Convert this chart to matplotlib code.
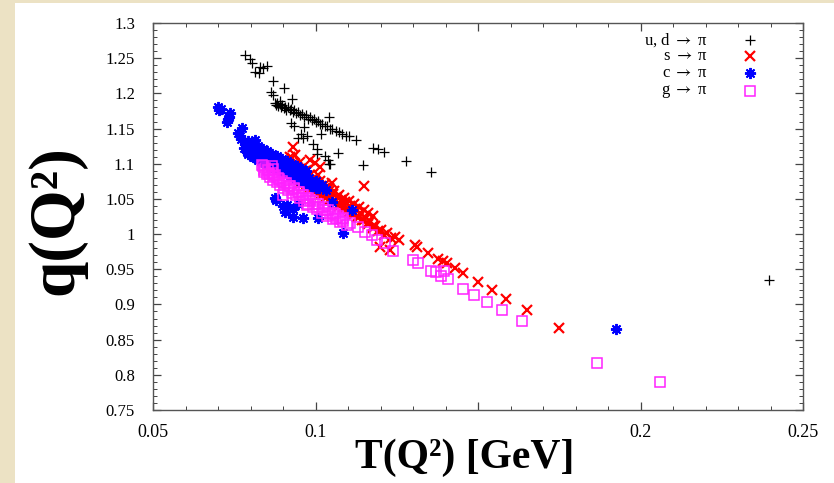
"""Scatter of q(Q^2) against T(Q^2) for four fragmentation channels."""
import matplotlib
matplotlib.use("Agg")
import matplotlib.pyplot as plt
from matplotlib.patches import Rectangle
from matplotlib.ticker import MultipleLocator, FixedFormatter, FixedLocator

plt.rcParams["font.family"] = ["Liberation Serif", "DejaVu Serif"]
plt.rcParams["mathtext.fontset"] = "stix"

# ---- data ----
# u, d -> pi
ud_x = [0.0783, 0.0798, 0.0805, 0.0814, 0.0826, 0.0829, 0.0838, 0.0851, 0.0869, 0.0903,
        0.0863, 0.0869, 0.0891, 0.0928,
        0.0875, 0.0878, 0.0882, 0.0886, 0.0890, 0.0894, 0.0898, 0.0902, 0.0906, 0.0910,
        0.0915, 0.0920, 0.0925, 0.0930, 0.0935, 0.0940, 0.0946, 0.0952, 0.0958, 0.0964,
        0.0970, 0.0976, 0.0982, 0.0988, 0.0994, 0.1000, 0.1007, 0.1014, 0.1021, 0.1028,
        0.1036, 0.1044, 0.1052, 0.1062, 0.1072, 0.1082, 0.1094, 0.1104,
        0.1042, 0.0925, 0.0934, 0.0965, 0.0955, 0.0974, 0.1017, 0.0992, 0.1005, 0.1005,
        0.1029, 0.1038, 0.1069, 0.1042, 0.1125, 0.1146, 0.1177, 0.1192, 0.1211, 0.1278,
        0.1355, 0.0945, 0.0962, 0.1045, 0.2395]
ud_y = [1.2545, 1.249, 1.243, 1.230, 1.229, 1.2375, 1.236, 1.239, 1.2176, 1.2077,
        1.202, 1.198, 1.189, 1.192,
        1.187, 1.183, 1.186, 1.182, 1.185, 1.181, 1.183, 1.179, 1.181, 1.177,
        1.180, 1.176, 1.178, 1.174, 1.176, 1.172, 1.174, 1.169, 1.171, 1.167,
        1.169, 1.164, 1.166, 1.162, 1.163, 1.159, 1.161, 1.156, 1.157, 1.153,
        1.153, 1.149, 1.149, 1.146, 1.145, 1.142, 1.140, 1.139,
        1.1665, 1.158, 1.154, 1.152, 1.142, 1.1395, 1.142, 1.128, 1.121, 1.114,
        1.111, 1.105, 1.115, 1.0997, 1.134, 1.098, 1.122, 1.121, 1.117, 1.104,
        1.088, 1.137, 1.136, 1.099, 0.935]

# s -> pi
s_x = [0.0931, 0.0928, 0.0922, 0.0937, 0.0952, 0.0983, 0.0998, 0.0943, 0.0974, 0.1014,
       0.1008, 0.1051, 0.1149,
       0.0945, 0.0950, 0.0955, 0.0960, 0.0965, 0.0970, 0.0975, 0.0980, 0.0985, 0.0990,
       0.0995, 0.1000, 0.1006, 0.1012, 0.1018, 0.1024, 0.1030, 0.1036, 0.1042, 0.1048,
       0.1054, 0.1060, 0.1066, 0.1072, 0.1078, 0.1085, 0.1092, 0.1099, 0.1106, 0.1113,
       0.1120, 0.1128, 0.1136, 0.1144, 0.1152, 0.1160, 0.1168, 0.1176, 0.1184, 0.1192,
       0.1200, 0.1210, 0.1220, 0.1232, 0.1245, 0.1258,
       0.0953, 0.0968, 0.0983, 0.0998, 0.1013, 0.1028, 0.1043, 0.1058, 0.1073, 0.1088,
       0.1103, 0.1118, 0.1133, 0.1148, 0.1163, 0.1178,
       0.0953, 0.0968, 0.0983, 0.0998, 0.1013, 0.1028, 0.1043, 0.1058, 0.1073, 0.1088,
       0.1103, 0.1118, 0.1133, 0.1148, 0.1163, 0.1178,
       0.1198, 0.1229, 0.1306, 0.1312, 0.1346, 0.1377, 0.1392, 0.1405, 0.1429, 0.1454,
       0.1500, 0.1543, 0.1586, 0.1650, 0.1749]
s_y = [1.124, 1.108, 1.110, 1.112, 1.1025, 1.105, 1.101, 1.0955, 1.091, 1.0955,
       1.084, 1.073, 1.068,
       1.090, 1.078, 1.086, 1.074, 1.083, 1.072, 1.080, 1.068, 1.077, 1.066,
       1.075, 1.064, 1.071, 1.060, 1.068, 1.057, 1.065, 1.054, 1.061, 1.050,
       1.057, 1.047, 1.053, 1.043, 1.049, 1.039, 1.045, 1.035, 1.040, 1.030,
       1.035, 1.025, 1.030, 1.020, 1.024, 1.014, 1.018, 1.009, 1.012, 1.004,
       1.006, 0.999, 1.001, 0.995, 0.996, 0.991,
       1.093, 1.089, 1.084, 1.080, 1.076, 1.071, 1.066, 1.061, 1.056, 1.052,
       1.047, 1.043, 1.038, 1.034, 1.030, 1.026,
       1.073, 1.069, 1.065, 1.060, 1.056, 1.052, 1.048, 1.044, 1.040, 1.036,
       1.032, 1.028, 1.024, 1.020, 1.016, 1.012,
       0.982, 0.978, 0.985, 0.982, 0.973, 0.965, 0.962, 0.959, 0.952, 0.945,
       0.932, 0.921, 0.908, 0.892, 0.867]

# c -> pi
c_x = [0.0700, 0.0709, 0.0703, 0.0737, 0.0731, 0.0728, 0.0734, 0.0774, 0.0762, 0.0768,
       0.0814, 0.0771, 0.0783, 0.0780, 0.0823, 0.0854,
       0.0785, 0.0790, 0.0795, 0.0800, 0.0806, 0.0812, 0.0818, 0.0824, 0.0830, 0.0836,
       0.0842, 0.0848, 0.0854, 0.0860, 0.0866, 0.0872, 0.0878, 0.0884, 0.0890, 0.0897,
       0.0904, 0.0911, 0.0918, 0.0925, 0.0932, 0.0940, 0.0948, 0.0956, 0.0964, 0.0972,
       0.0980, 0.0990, 0.1000, 0.1010, 0.1020, 0.1032,
       0.0792, 0.0807, 0.0822, 0.0837, 0.0852, 0.0867, 0.0882, 0.0897, 0.0912, 0.0927,
       0.0942, 0.0957, 0.0972,
       0.0792, 0.0807, 0.0822, 0.0837, 0.0852, 0.0867, 0.0882, 0.0897, 0.0912, 0.0927,
       0.0942, 0.0957, 0.0972, 0.0987, 0.1002,
       0.0879, 0.0912, 0.0931, 0.0906, 0.0931, 0.0946, 0.0962, 0.1008, 0.1051, 0.1112,
       0.1085, 0.0875, 0.0900, 0.1925]
c_y = [1.181, 1.178, 1.176, 1.172, 1.163, 1.160, 1.166, 1.151, 1.144, 1.139,
       1.134, 1.135, 1.128, 1.122, 1.120, 1.110,
       1.130, 1.116, 1.126, 1.113, 1.124, 1.110, 1.120, 1.106, 1.117, 1.103,
       1.114, 1.100, 1.110, 1.097, 1.107, 1.094, 1.104, 1.091, 1.100, 1.088,
       1.097, 1.085, 1.094, 1.082, 1.090, 1.079, 1.087, 1.076, 1.084, 1.073,
       1.080, 1.070, 1.075, 1.066, 1.070, 1.062,
       1.132, 1.128, 1.125, 1.121, 1.118, 1.114, 1.111, 1.107, 1.104, 1.100,
       1.097, 1.093, 1.089,
       1.114, 1.110, 1.107, 1.103, 1.100, 1.097, 1.093, 1.089, 1.086, 1.083,
       1.079, 1.076, 1.072, 1.069, 1.066,
       1.049, 1.041, 1.036, 1.032, 1.024, 1.043, 1.023, 1.023, 1.046, 1.034,
       1.002, 1.051, 1.040, 0.865]

# g -> pi
g_x = [0.0838, 0.0866, 0.0869,
       0.0835, 0.0840, 0.0845, 0.0850, 0.0855, 0.0860, 0.0865, 0.0870, 0.0875, 0.0880,
       0.0886, 0.0892, 0.0898, 0.0904, 0.0910, 0.0916, 0.0922, 0.0928, 0.0934, 0.0940,
       0.0946, 0.0952, 0.0958, 0.0964, 0.0970, 0.0977, 0.0984, 0.0991, 0.0998, 0.1005,
       0.1012, 0.1020, 0.1028, 0.1036, 0.1045, 0.1054, 0.1064, 0.1075, 0.1086, 0.1097,
       0.0843, 0.0858, 0.0873, 0.0888, 0.0903, 0.0918, 0.0933, 0.0948, 0.0963, 0.0978,
       0.0993, 0.1008, 0.1023, 0.1038, 0.1053, 0.1068, 0.1083,
       0.0900, 0.0974, 0.1060, 0.1085, 0.1106, 0.1131, 0.1152, 0.1174, 0.1190, 0.1214,
       0.1238,
       0.1300, 0.1315, 0.1355, 0.1370, 0.1395, 0.1386, 0.1408, 0.1454, 0.1488, 0.1528,
       0.1574, 0.1635, 0.1866, 0.2060]
g_y = [1.097, 1.097, 1.093,
       1.098, 1.088, 1.094, 1.085, 1.091, 1.081, 1.087, 1.077, 1.084, 1.074,
       1.080, 1.070, 1.076, 1.066, 1.072, 1.062, 1.068, 1.058, 1.064, 1.055,
       1.060, 1.051, 1.056, 1.047, 1.052, 1.043, 1.048, 1.039, 1.043, 1.035,
       1.039, 1.030, 1.034, 1.026, 1.028, 1.021, 1.023, 1.017, 1.018, 1.013,
       1.091, 1.086, 1.082, 1.078, 1.073, 1.069, 1.065, 1.060, 1.056, 1.052,
       1.047, 1.043, 1.039, 1.034, 1.030, 1.026, 1.021,
       1.055, 1.041, 1.028, 1.023, 1.016, 1.010, 1.003, 0.999, 0.992, 0.987,
       0.976,
       0.963, 0.959, 0.948, 0.946, 0.948, 0.941, 0.936, 0.922, 0.914, 0.904,
       0.892, 0.877, 0.817, 0.790]

labels = ["u, d $\\rightarrow$ \u03c0", "s $\\rightarrow$ \u03c0",
          "c $\\rightarrow$ \u03c0", "g $\\rightarrow$ \u03c0"]
x_ticks = [0.05, 0.1, 0.15, 0.2, 0.25]
x_ticklabels = ["0.05", "0.1", "", "0.2", "0.25"]
y_ticks = [0.75, 0.8, 0.85, 0.9, 0.95, 1.0, 1.05, 1.1, 1.15, 1.2, 1.25, 1.3]
y_ticklabels = ["0.75", "0.8", "0.85", "0.9", "0.95", "1", "1.05", "1.1", "1.15",
                "1.2", "1.25", "1.3"]

fig = plt.figure(figsize=(8.34, 4.83), dpi=100)
fig.patch.set_facecolor("#ece2c4")
fig.patches.append(Rectangle((15 / 834, 0), 1, 1 - 3 / 483, transform=fig.transFigure,
                             facecolor="white", edgecolor="none", zorder=-10))

ax = fig.add_axes([153 / 834, 73 / 483, 650 / 834, 387 / 483])

styles = [
    dict(marker="+", color="black", ms=6.5, mew=0.9, mfc="none"),
    dict(marker="x", color="#ff0000", ms=6.5, mew=1.6, mfc="none"),
    dict(marker=(8, 2, 0), color="#0000ff", ms=8, mew=1.4, mfc="none"),
    dict(marker="s", color="#ff22ff", ms=6.5, mew=1.1, mfc="none"),
]
series = [(ud_x, ud_y), (s_x, s_y), (c_x, c_y), (g_x, g_y)]
for (xs, ys), st in zip(series, styles):
    ax.plot(xs, ys, linestyle="none", **st)

ax.set_xlim(0.05, 0.25)
ax.set_ylim(0.75, 1.3)
ax.xaxis.set_major_locator(FixedLocator(x_ticks))
ax.xaxis.set_major_formatter(FixedFormatter(x_ticklabels))
ax.yaxis.set_major_locator(FixedLocator(y_ticks))
ax.yaxis.set_major_formatter(FixedFormatter(y_ticklabels))
ax.xaxis.set_minor_locator(MultipleLocator(0.01))
ax.yaxis.set_minor_locator(MultipleLocator(0.01))
ax.tick_params(which="both", direction="in", top=True, right=True, color="#444444")
ax.tick_params(which="major", length=6, width=0.9)
ax.tick_params(which="minor", length=3, width=0.7)
ax.tick_params(axis="y", pad=13, labelsize=12)
ax.tick_params(axis="x", pad=10, labelsize=13)
for sp in ax.spines.values():
    sp.set_color("#555555")
    sp.set_linewidth(1.0)

# key, drawn in the top-right corner with text right of marker column
row_y = [0.957, 0.914, 0.871, 0.824]
for lab, st, yy in zip(labels, styles, row_y):
    ax.text(0.854, yy, lab, transform=ax.transAxes, ha="right", va="center", fontsize=12)
    ax.plot([0.918], [yy], transform=ax.transAxes, linestyle="none", clip_on=False, **st)

fig.text(465 / 834, 1 - 458 / 483, "T(Q\u00b2) [GeV]", ha="center", va="center",
         fontsize=30, fontweight="bold")
fig.text(56 / 834, 1 - 220 / 483, "q(Q\u00b2)", ha="center", va="center", rotation=90,
         fontsize=47, fontweight="bold")

fig.savefig("out.png", dpi=100)
